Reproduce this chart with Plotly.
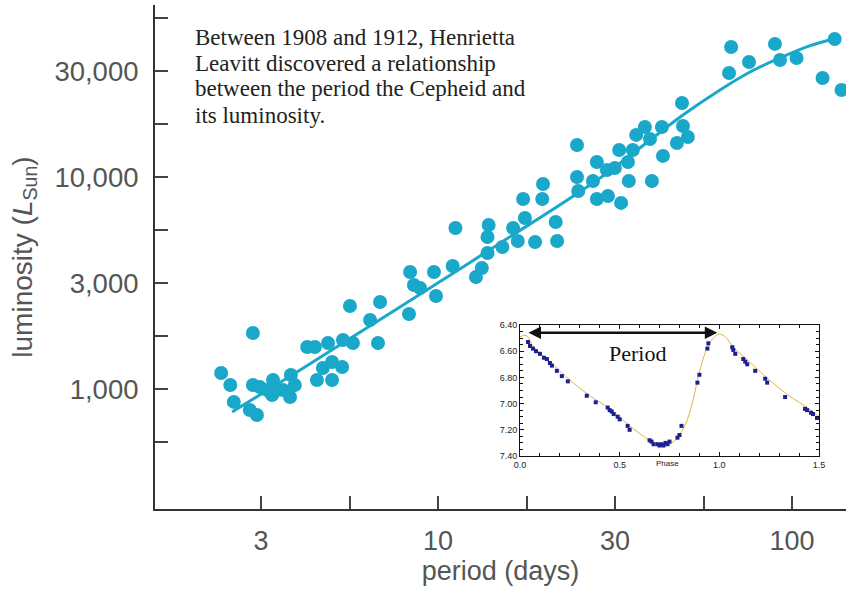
import plotly.graph_objects as go

# ---------------- data: Cepheid period-luminosity relation ----------------
PERIOD_DAYS = [
    2.44, 2.59, 2.65, 2.94, 3.08, 3.00, 3.14, 3.29, 3.42, 3.40, 3.51, 3.65, 3.82, 3.84, 3.94, 3.00,
    4.27, 4.49, 4.89, 5.39, 5.75, 4.55, 4.73, 5.02, 5.02, 5.36, 5.64, 6.43, 6.86, 6.77, 8.28,
    8.34, 8.55, 8.90, 9.74, 9.87, 11.0, 11.2, 12.8, 13.3, 13.8, 13.8, 13.9, 15.2, 16.3, 16.8,
    17.4, 17.6, 18.8, 19.7, 19.8, 21.5, 21.7,
    24.7, 24.7, 24.9, 27.4, 28.1, 28.1, 30.0, 30.2, 31.6, 32.5, 32.9, 34.4, 34.6, 35.5, 36.3,
    38.4, 39.7, 40.2, 42.9, 43.2, 47.3, 48.9, 49.2, 50.8,
    67.3, 66.4, 75.6, 89.5, 92.5, 103, 122, 132, 138,
]
LUMINOSITY = [
    1190, 1045, 869, 796, 754, 1045, 1021, 989, 1102, 937, 989, 989, 916, 1164, 1045, 1837,
    1578, 1578, 1648, 1703, 1648, 1102, 1256, 1341, 1102, 1270, 2463, 2116, 2573, 1648, 2259,
    3565, 3095, 2995, 3565, 2746, 3804, 5747, 3376, 3722, 4381, 5212, 5938, 4675, 5747, 4990,
    7876, 6408, 4936, 7876, 9268, 6135, 4990,
    14160, 10000, 8590, 9575, 11770, 7876, 10790, 8136, 11030, 13410, 7543, 11770, 9575, 13410, 15790,
    17210, 15110, 9575, 17210, 12570, 14470, 22340, 17400, 15440,
    41040, 30940, 34870, 42410, 35630, 36410, 29310, 44760, 25730,
]
FIT_PERIOD = [2.62, 4.08, 7.81, 15.0, 28.7, 49.2, 62.6, 76.1, 92.5, 112, 134]
FIT_LUM = [779, 1229, 2437, 4884, 9892, 19610, 25730, 31280, 36410, 41490, 45260]

X_TICK_EXP = [0.5, 0.75, 1.0, 1.25, 1.5, 1.75, 2.0]
X_TICK_TEXT = ["3", "", "10", "", "30", "", "100"]
Y_TICK_EXP = [2.75, 3.0, 3.25, 3.5, 3.75, 4.0, 4.25, 4.5, 4.75]
Y_TICK_TEXT = ["", "1,000", "", "3,000", "", "10,000", "", "30,000", ""]

NOTE_LINES = [
    "Between 1908 and 1912, Henrietta",
    "Leavitt discovered a relationship",
    "between the period the Cepheid and",
    "its luminosity.",
]

# ---------------- inset: light curve ----------------
PHASE_OBS = [0.04, 0.05, 0.065, 0.08, 0.10, 0.12, 0.135, 0.15, 0.16, 0.185, 0.21, 0.24,
             0.335, 0.38, 0.44, 0.45, 0.46, 0.47, 0.49, 0.50, 0.54, 0.55,
             0.65, 0.66, 0.67, 0.69, 0.70, 0.71, 0.72, 0.73, 0.74, 0.75, 0.79, 0.80, 0.81,
             0.89, 0.90, 0.94, 0.945,
             1.065, 1.07, 1.08, 1.12, 1.13, 1.14, 1.18, 1.23, 1.24, 1.33, 1.43, 1.44, 1.46, 1.47, 1.49]
MAG_OBS = [6.53, 6.56, 6.58, 6.60, 6.62, 6.65, 6.66, 6.69, 6.71, 6.75, 6.79, 6.83,
           6.94, 6.99, 7.03, 7.05, 7.06, 7.08, 7.10, 7.12, 7.17, 7.20,
           7.28, 7.29, 7.31, 7.31, 7.32, 7.31, 7.32, 7.30, 7.31, 7.29, 7.26, 7.24, 7.17,
           6.84, 6.78, 6.58, 6.54,
           6.57, 6.59, 6.62, 6.66, 6.68, 6.70, 6.75, 6.81, 6.84, 6.95, 7.04, 7.05, 7.07, 7.08, 7.11]
PHASE_CURVE = [0.0, 0.03, 0.07, 0.15, 0.25, 0.35, 0.45, 0.55, 0.63, 0.70, 0.76, 0.80, 0.84,
               0.87, 0.90, 0.94, 0.97, 1.0, 1.03, 1.07, 1.15, 1.25, 1.35, 1.45, 1.5]
MAG_CURVE = [6.49, 6.48, 6.57, 6.68, 6.82, 6.94, 7.04, 7.17, 7.26, 7.32, 7.30, 7.24, 7.12,
             6.96, 6.76, 6.57, 6.50, 6.47, 6.49, 6.57, 6.68, 6.82, 6.94, 7.04, 7.10]
INSET_X_TICKS = [0.0, 0.5, 1.0, 1.5]
INSET_X_TEXT = ["0.0", "0.5", "1.0", "1.5"]
INSET_Y_TICKS = [6.4, 6.6, 6.8, 7.0, 7.2, 7.4]
INSET_Y_TEXT = ["6.40", "6.60", "6.80", "7.00", "7.20", "7.40"]
PERIOD_ARROW = (0.035, 0.99, 6.46)  # phase start, phase end, magnitude level

# ---------------- styling ----------------
W, H = 846, 590
ML, MR, MT, MB = 155, 0, 5, 81
CYAN = "#1AA8CA"
GREY = "#555555"
AXIS = "#333333"
SANS = "Liberation Sans, Arial, sans-serif"
SERIF = "Liberation Serif, Times New Roman, serif"

plot_h = H - MT - MB


def ypaper(py):
    return (H - MB - py) / plot_h


def xpaper(px):
    return (px - ML) / (W - ML - MR)


fig = go.Figure()

fig.add_trace(go.Scatter(
    x=FIT_PERIOD, y=FIT_LUM, mode="lines",
    line=dict(color=CYAN, width=3, shape="spline", smoothing=1.0),
    hoverinfo="skip", showlegend=False, cliponaxis=False,
))
fig.add_trace(go.Scatter(
    x=PERIOD_DAYS, y=LUMINOSITY, mode="markers",
    marker=dict(color=CYAN, size=14, line=dict(width=0)),
    showlegend=False, cliponaxis=False,
))

# inset
fig.add_trace(go.Scatter(
    x=PHASE_CURVE, y=MAG_CURVE, mode="lines", xaxis="x2", yaxis="y2",
    line=dict(color="#E2B24C", width=1, shape="spline", smoothing=1.0),
    showlegend=False,
))
fig.add_trace(go.Scatter(
    x=PHASE_OBS, y=MAG_OBS, mode="markers", xaxis="x2", yaxis="y2",
    marker=dict(color="#1B1F8F", size=4, symbol="square"),
    showlegend=False,
))

fig.update_layout(
    width=W, height=H,
    margin=dict(l=ML, r=MR, t=MT, b=MB, pad=0),
    paper_bgcolor="white", plot_bgcolor="white",
    xaxis=dict(
        type="log", range=[0.2006, 2.1525], domain=[0, 1],
        showline=True, linecolor=AXIS, linewidth=2,
        showgrid=False, zeroline=False,
        ticks="inside", ticklen=13, tickwidth=1.5, tickcolor="#444",
        tickmode="array", tickvals=[10 ** e for e in X_TICK_EXP], ticktext=X_TICK_TEXT,
        tickfont=dict(family=SANS, size=27, color=GREY),
        ticklabelstandoff=7,
        title=dict(text="period (days)", font=dict(family=SANS, size=27, color=GREY), standoff=2),
        automargin=False,
    ),
    yaxis=dict(
        type="log", range=[2.434, 4.811], domain=[0, 1],
        showline=True, linecolor=AXIS, linewidth=2,
        showgrid=False, zeroline=False,
        ticks="inside", ticklen=13, tickwidth=1.5, tickcolor="#444",
        tickmode="array", tickvals=[10 ** e for e in Y_TICK_EXP], ticktext=Y_TICK_TEXT,
        tickfont=dict(family=SANS, size=27.5, color=GREY),
        ticklabelstandoff=9,
        title=dict(text="luminosity (<i>L</i><sub>Sun</sub>)",
                   font=dict(family=SANS, size=28, color=GREY), standoff=14),
        automargin=False,
    ),
    xaxis2=dict(
        domain=[xpaper(520), xpaper(819)], anchor="y2", range=[0, 1.5],
        showline=True, mirror="allticks", linecolor="#111", linewidth=1,
        showgrid=False, zeroline=False,
        ticks="inside", ticklen=4, tickcolor="#111",
        tickmode="array", tickvals=INSET_X_TICKS, ticktext=INSET_X_TEXT,
        tickfont=dict(family=SANS, size=9, color="#222"),
        minor=dict(ticks="inside", ticklen=3, tickmode="linear", tick0=0, dtick=0.1, tickcolor="#111"),
        automargin=False,
    ),
    yaxis2=dict(
        domain=[ypaper(456), ypaper(325)], anchor="x2", range=[7.4, 6.4],
        showline=True, mirror="allticks", linecolor="#111", linewidth=1,
        showgrid=False, zeroline=False,
        ticks="inside", ticklen=4, tickcolor="#111",
        tickmode="array", tickvals=INSET_Y_TICKS, ticktext=INSET_Y_TEXT,
        tickfont=dict(family=SANS, size=9, color="#222"),
        minor=dict(ticks="inside", ticklen=3, tickmode="linear", tick0=6.4, dtick=0.05, tickcolor="#111"),
        automargin=False,
    ),
)

annotations = []
for i, line in enumerate(NOTE_LINES):
    annotations.append(dict(
        text=line, xref="paper", yref="paper",
        x=xpaper(193), y=ypaper(37 + 26 * i),
        xanchor="left", yanchor="middle", showarrow=False,
        font=dict(family=SERIF, size=23, color="#222"),
    ))

p0, p1, lev = PERIOD_ARROW
annotations.append(dict(
    text="", xref="x2", yref="y2", x=p1, y=lev, axref="x2", ayref="y2", ax=p0, ay=lev,
    showarrow=True, arrowside="end+start", arrowhead=2, startarrowhead=2,
    arrowsize=1, startarrowsize=1, arrowwidth=2.5, arrowcolor="#111",
))
annotations.append(dict(
    text="Period", xref="x2", yref="y2", x=0.59, y=6.615,
    showarrow=False, font=dict(family=SERIF, size=22, color="#111"),
))
annotations.append(dict(
    text="Phase", xref="x2", yref="y2 domain", x=0.74, y=0, yanchor="top", yshift=-1,
    showarrow=False, font=dict(family=SANS, size=8, color="#222"),
))
fig.update_layout(annotations=annotations)

fig.write_html("out.html", config={"displayModeBar": False},
               post_script="document.body.style.margin='0';")
